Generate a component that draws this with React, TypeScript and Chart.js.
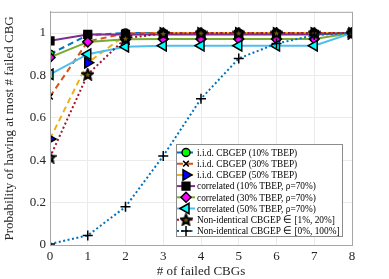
import React, { useEffect, useRef } from 'react';
import { Chart, registerables } from 'chart.js';
import { drawPoint } from 'chart.js/helpers';

Chart.register(...registerables);

const xValues = [0, 1, 2, 3, 4, 5, 6, 7, 8];
const iid10 = [0.9, 0.99, 1, 1, 1, 1, 1, 1, 1];
const iid30 = [0.7, 0.96, 0.999, 1, 1, 1, 1, 1, 1];
const iid50 = [0.5, 0.86, 0.99, 1, 1, 1, 1, 1, 1];
const corr10 = [0.963, 0.993, 0.993, 0.993, 0.993, 0.993, 0.993, 0.993, 1];
const corr30 = [0.885, 0.958, 0.97, 0.972, 0.972, 0.972, 0.972, 0.972, 1];
const corr50 = [0.805, 0.9, 0.935, 0.94, 0.94, 0.94, 0.94, 0.94, 1];
const nonId20 = [0.414, 0.805, 0.975, 0.998, 1, 1, 1, 1, 1];
const nonId100 = [0.005, 0.045, 0.18, 0.42, 0.69, 0.88, 0.95, 0.99, 1];

const seriesLabels = [
  'i.i.d. CBGEP (10% TBEP)',
  'i.i.d. CBGEP (30% TBEP)',
  'i.i.d. CBGEP (50% TBEP)',
  'correlated (10% TBEP, ρ=70%)',
  'correlated (30% TBEP, ρ=70%)',
  'correlated (50% TBEP, ρ=70%)',
  'Non-identical CBGEP ∈ [1%, 20%]',
  'Non-identical CBGEP ∈ [0%, 100%]',
];
const yTickValues = [0, 0.2, 0.4, 0.6, 0.8, 1];
const xTickValues = [0, 1, 2, 3, 4, 5, 6, 7, 8];

const FONT = '"Liberation Serif", "Times New Roman", serif';

function makeStar(size: number) {
  const c = document.createElement('canvas');
  c.width = size;
  c.height = size;
  const ctx = c.getContext('2d')!;
  const cx = size / 2, cy = size / 2 + 0.5;
  const ro = size / 2 - 1, ri = ro * 0.45;
  ctx.beginPath();
  for (let i = 0; i < 10; i++) {
    const r = i % 2 === 0 ? ro : ri;
    const a = -Math.PI / 2 + (i * Math.PI) / 5;
    const px = cx + r * Math.cos(a), py = cy + r * Math.sin(a);
    if (i === 0) ctx.moveTo(px, py); else ctx.lineTo(px, py);
  }
  ctx.closePath();
  ctx.fillStyle = '#6b5a14';
  ctx.fill();
  ctx.lineWidth = 2;
  ctx.strokeStyle = '#000';
  ctx.stroke();
  return c;
}

export default function App() {
  const ref = useRef<HTMLCanvasElement>(null);
  useEffect(() => {
    const star = makeStar(13);
    const styles = [
      { color: '#0072BD', dash: [6, 4], ps: 'circle', r: 4, bg: '#00FF00', rot: 0, data: iid10 },
      { color: '#D95319', dash: [6, 4], ps: 'crossRot', r: 4, bg: '#000', rot: 0, data: iid30 },
      { color: '#EDB120', dash: [6, 4], ps: 'triangle', r: 6, bg: '#0000FF', rot: 90, data: iid50 },
      { color: '#7E2F8E', dash: [], ps: 'rect', r: 5.5, bg: '#000', rot: 0, data: corr10 },
      { color: '#77AC30', dash: [], ps: 'rectRot', r: 5, bg: '#FF00FF', rot: 0, data: corr30 },
      { color: '#4DBEEE', dash: [], ps: 'triangle', r: 6, bg: '#00FFFF', rot: -90, data: corr50 },
      { color: '#A2142F', dash: [2, 2.5], ps: star as any, r: 6, bg: '#000', rot: 0, data: nonId20 },
      { color: '#0072BD', dash: [2, 2.5], ps: 'cross', r: 5, bg: '#000', rot: 0, data: nonId100 },
    ];
    const n = styles.length;
    const datasets = styles.map((s, i) => ({
      label: seriesLabels[i],
      data: s.data.map((y, j) => ({ x: xValues[j], y })),
      borderColor: s.color,
      borderWidth: 2,
      borderDash: s.dash,
      pointStyle: s.ps,
      pointRadius: s.r,
      pointRotation: s.rot,
      pointBackgroundColor: s.bg,
      pointBorderColor: '#000',
      pointBorderWidth: 1.5,
      fill: false,
      tension: 0,
      order: n - i,
    }));

    const framePlugin = {
      id: 'frame',
      afterDatasetsDraw(chart: any) {
        const { ctx, chartArea: a } = chart;
        ctx.save();
        ctx.strokeStyle = '#a6a6a6';
        ctx.lineWidth = 1;
        ctx.strokeRect(a.left + 0.5, a.top + 0.5, a.right - a.left, a.bottom - a.top);
        // legend
        const w = 166, h = 92;
        const lx = a.right - 10 - w, ly = a.bottom - 9 - h;
        ctx.fillStyle = '#fff';
        ctx.fillRect(lx, ly, w, h);
        ctx.strokeStyle = '#8c8c8c';
        ctx.strokeRect(lx + 0.5, ly + 0.5, w, h);
        styles.forEach((s, i) => {
          const y = ly + 8.5 + i * 11.2;
          ctx.save();
          ctx.strokeStyle = s.color;
          ctx.lineWidth = 2;
          ctx.setLineDash(s.dash);
          ctx.beginPath();
          ctx.moveTo(lx + 1, y);
          ctx.lineTo(lx + 19, y);
          ctx.stroke();
          ctx.restore();
          ctx.save();
          ctx.fillStyle = s.bg;
          ctx.strokeStyle = '#000';
          ctx.lineWidth = 1.5;
          drawPoint(ctx, { pointStyle: s.ps, rotation: s.rot, radius: s.r, borderWidth: 1.5 }, lx + 10, y);
          ctx.restore();
          ctx.fillStyle = '#000';
          ctx.font = `10.5px ${FONT}`;
          ctx.textBaseline = 'middle';
          ctx.textAlign = 'left';
          const tw = ctx.measureText(seriesLabels[i]).width;
          ctx.fillText(seriesLabels[i], lx + 21, y + 0.5, tw * 0.89);
        });
        ctx.restore();
      },
    };

    const chart = new Chart(ref.current!, {
      type: 'line',
      data: { datasets: datasets as any },
      plugins: [framePlugin],
      options: {
        animation: false,
        responsive: false,
        layout: { padding: { left: 0, top: 3, right: 37, bottom: 0 } },
        plugins: { legend: { display: false }, tooltip: { enabled: false } },
        scales: {
          x: {
            type: 'linear',
            min: 0,
            max: 8,
            afterBuildTicks: (s: any) => { s.ticks = xTickValues.map((v) => ({ value: v })); },
            afterFit: (s: any) => { s.height = 34; },
            grid: { color: '#ebebeb', drawTicks: false },
            border: { color: '#a6a6a6' },
            ticks: { color: '#262626', font: { family: FONT, size: 13 }, padding: 4, maxRotation: 0 },
            title: { display: true, text: '# of failed CBGs', color: '#262626', font: { family: FONT, size: 13 }, padding: { top: 0, bottom: 0 } },
          },
          y: {
            type: 'linear',
            min: 0,
            max: 1.1,
            afterBuildTicks: (s: any) => { s.ticks = yTickValues.map((v) => ({ value: v })); },
            afterFit: (s: any) => { s.width = 50; },
            grid: { color: '#ebebeb', drawTicks: false },
            border: { color: '#a6a6a6' },
            ticks: { color: '#262626', font: { family: FONT, size: 13 }, padding: 4, callback: (v: any) => String(Math.round(v * 10) / 10) },
            title: { display: true, text: 'Probability of having at most # failed CBG', color: '#262626', font: { family: FONT, size: 13 }, padding: { top: 2, bottom: 0 } },
          },
        },
      } as any,
    });
    return () => chart.destroy();
  }, []);
  return (
    <div style={{ position: 'absolute', left: 0, top: 0, width: 389, height: 279, background: '#fff' }}>
      <canvas ref={ref} width={389} height={279} style={{ display: 'block' }} />
    </div>
  );
}
